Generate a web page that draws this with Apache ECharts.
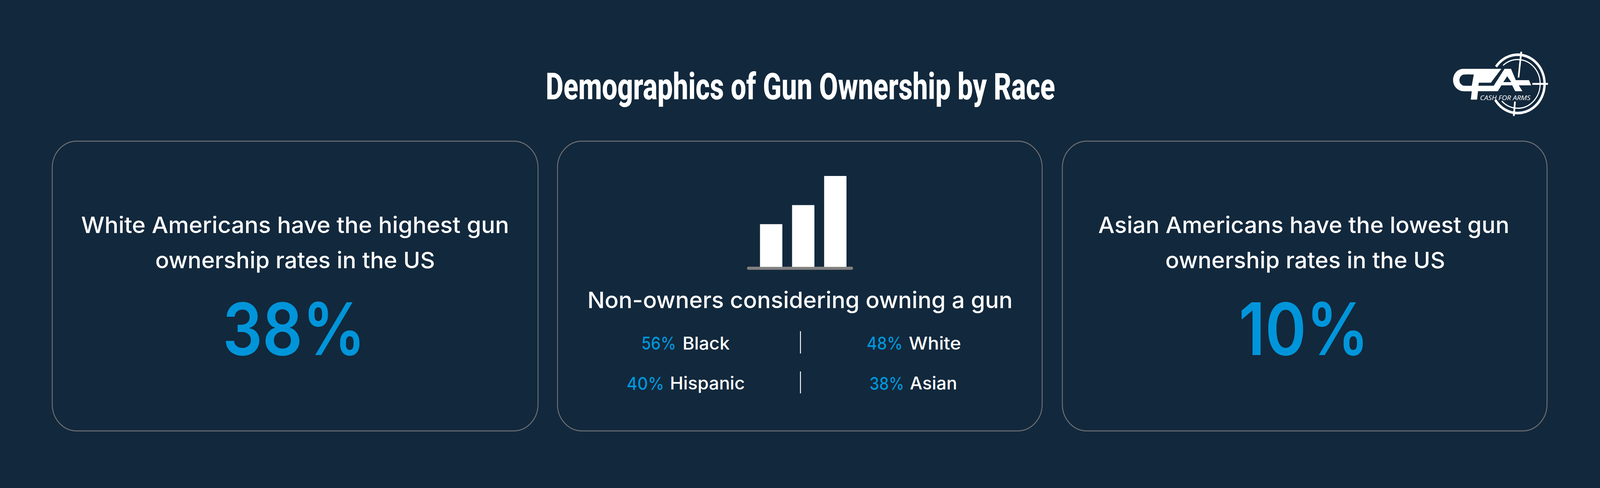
<!DOCTYPE html>
<html lang="en">
  <head>
    <meta charset="utf-8" />
    <title>Demographics of Gun Ownership by Race</title>
    <script src="https://cdn.jsdelivr.net/npm/echarts@6/dist/echarts.min.js"></script>
    <style>
      html, body { margin: 0; padding: 0; background: #12283c; overflow: hidden; }
      #chart { width: 4440px; height: 1248px; transform-origin: 0 0; }
    </style>
  </head>
  <body>
    <div id="chart"></div>
    <script>
      const chartTitle = 'Demographics of Gun Ownership by Race'
      const leftLines = ['White Americans have the highest gun', 'ownership rates in the US']
      const leftValue = '38%'
      const rightLines = ['Asian Americans have the lowest gun', 'ownership rates in the US']
      const rightValue = '10%'
      const middleHeading = 'Non-owners considering owning a gun'
      const nonOwnerPct = ['56%', '48%', '40%', '38%']
      const nonOwnerGroup = ['Black', 'White', 'Hispanic', 'Asian']
      const iconCategories = ['a', 'b', 'c']
      const iconValues = [47, 68, 100]

      const BG = '#12283c'
      const BLUE = '#0095da'
      const BODY_FONT = 'Inter'

      // the browser window can be narrower than the 4440 wide layout
      const box = document.getElementById('chart')
      box.style.transform = 'scale(' + (window.innerWidth / 4440) + ',' + (window.innerHeight / 1248) + ')'

      const measure = document.createElement('canvas').getContext('2d')

      // width is the width the text has in the picture, no substitute font has the same metrics
      function text (x, y, str, size, color, width, opts) {
        opts = opts || {}
        const font = (opts.style || '') + ' ' + (opts.weight || 400) + ' ' + size + 'px ' + (opts.family || BODY_FONT)
        measure.font = font
        return {
          type: 'text',
          x: x,
          y: y,
          scaleX: width / measure.measureText(str).width,
          style: {
            text: str,
            fill: color,
            font: font,
            textAlign: opts.align || 'center',
            textVerticalAlign: 'middle'
          }
        }
      }

      function card (x, w) {
        return {
          type: 'rect',
          shape: { x: x, y: 361, width: w, height: 741, r: 68 },
          style: { fill: 'transparent', stroke: '#6f7275', lineWidth: 2.5 }
        }
      }

      function poly (points, fill) {
        return { type: 'polygon', shape: { points: points }, style: { fill: fill } }
      }

      function logoArc (r, start, end, width) {
        return {
          type: 'arc',
          shape: { cx: 936, cy: 344, r: r, startAngle: start, endAngle: end, clockwise: true },
          style: { stroke: '#fff', lineWidth: width, fill: 'none' }
        }
      }

      // logo shapes are in coordinates of a 3x crop, the group scales them back
      const logo = {
        type: 'group',
        x: 3900,
        y: 100,
        scaleX: 1 / 3,
        scaleY: 1 / 3,
        children: [
          logoArc(224, -2.51, 2.56, 20),
          logoArc(187, -2.28, 2.36, 9),
          { type: 'rect', shape: { x: 397, y: 228, width: 200, height: 172, r: [86, 0, 0, 86] }, style: { fill: '#fff' } },
          poly([[490, 228], [880, 228], [920, 315], [1030, 315], [1048, 355], [945, 355], [975, 400], [915, 400], [890, 355], [800, 355], [770, 400], [605, 400], [597, 465], [545, 465], [553, 400], [490, 400]], '#fff'),
          { type: 'rect', shape: { x: 450, y: 272, width: 90, height: 86, r: [43, 0, 0, 43] }, style: { fill: BG } },
          poly([[510, 272], [570, 272], [553, 358], [510, 358]], BG),
          poly([[612, 335], [712, 335], [800, 228], [826, 228], [736, 358], [608, 358]], BG),
          poly([[848, 285], [882, 330], [816, 330]], BG),
          poly([[958, 97], [973, 97], [949, 295], [936, 295]], '#fff'),
          poly([[1058, 336], [1188, 336], [1188, 351], [1058, 351]], '#fff'),
          poly([[906, 480], [920, 480], [911, 590], [896, 590]], '#fff')
        ]
      }

      const texts = [
        text(2221, 222, chartTitle, 95, '#fff', 1413, { weight: 800, family: 'Roboto' }),
        text(819, 575, leftLines[0], 58, '#fff', 1188, { weight: 500 }),
        text(819, 665, leftLines[1], 58, '#fff', 776, { weight: 500 }),
        text(816, 841, leftValue, 185, BLUE, 397, { weight: 600 }),
        text(3618, 575, rightLines[0], 58, '#fff', 1141, { weight: 500 }),
        text(3622, 665, rightLines[1], 58, '#fff', 776, { weight: 500 }),
        text(3618, 841, rightValue, 185, BLUE, 361, { weight: 600 }),
        text(2220, 767, middleHeading, 58, '#fff', 1181, { weight: 500 }),
        text(4177, 250, 'CASH FOR ARMS', 16, '#fff', 140, { style: 'italic', weight: 500, family: '"Open Sans"' })
      ]

      // left edge and width of the pct and group label in each cell
      const pctX = [1780, 2405, 1739, 2413]
      const pctW = [96, 100, 104, 96]
      const groupX = [1894, 2522, 1859, 2525]
      const groupW = [131, 145, 208, 131]
      const rowY = [878, 980]
      nonOwnerPct.forEach(function (pct, i) {
        const y = rowY[Math.floor(i / 2)]
        texts.push(text(pctX[i], y, pct, 45, BLUE, pctW[i], { align: 'left', weight: 500 }))
        texts.push(text(groupX[i], y, nonOwnerGroup[i], 45, '#fff', groupW[i], { align: 'left', weight: 500 }))
      })

      const option = {
        backgroundColor: BG,
        animation: false,
        grid: { left: 2095.5, top: 450, width: 267, height: 232.5 },
        xAxis: {
          type: 'category',
          data: iconCategories,
          axisLine: { show: false },
          axisTick: { show: false },
          axisLabel: { show: false }
        },
        yAxis: { type: 'value', min: 0, max: 100, show: false, splitLine: { show: false } },
        series: [{
          type: 'bar',
          data: iconValues,
          barWidth: 62,
          itemStyle: { color: '#fff' },
          silent: true
        }],
        graphic: {
          elements: [
            card(145, 1348),
            card(1547, 1345),
            card(2948, 1345),
            { type: 'rect', shape: { x: 2073, y: 682, width: 294, height: 8, r: 4 }, style: { fill: '#808080' } },
            { type: 'rect', shape: { x: 2220, y: 847, width: 2.5, height: 57 }, style: { fill: '#fff' } },
            { type: 'rect', shape: { x: 2220, y: 950, width: 2.5, height: 56 }, style: { fill: '#fff' } },
            logo
          ].concat(texts)
        }
      }

      const chart = echarts.init(box, null, { renderer: 'svg' })
      chart.setOption(option)
    </script>
  </body>
</html>
